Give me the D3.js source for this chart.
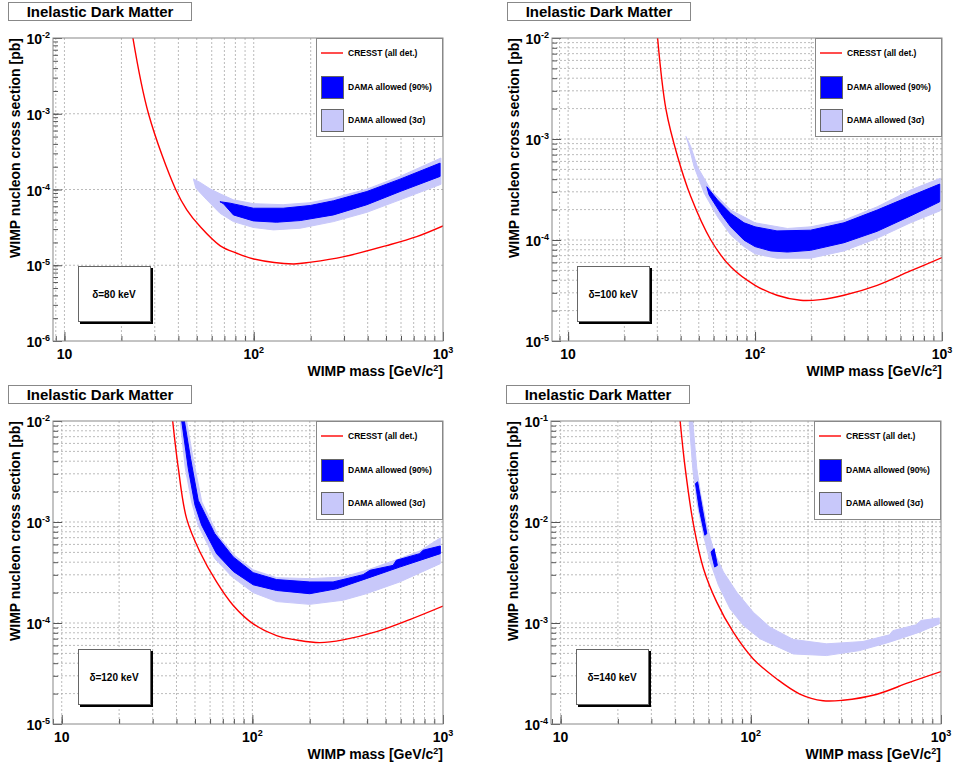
<!DOCTYPE html>
<html>
<head>
<meta charset="utf-8">
<script src="https://cdn.jsdelivr.net/npm/d3@7"></script>
<style>
  body { margin: 0; background: #fff; }
  svg { display: block; font-family: "Liberation Sans", Arial, Helvetica, sans-serif; font-weight: bold; }
</style>
</head>
<body>
<div id="chart"></div>
<script>
// panel settings, one entry per delta
const deltas = [80, 100, 120, 140];
const xMins = [8.7, 8.2, 9.0, 8.9];
const xMaxs = [1000, 1000, 1000, 1000];
const yLows = [1e-6, 1e-5, 1e-5, 1e-4];
const yHighs = [1e-2, 1e-2, 1e-2, 1e-1];
const minorHGrid = [false, true, true, true];

const legendLabels = ["CRESST (all det.)", "DAMA allowed (90%)", "DAMA allowed (3\u03c3)"];

// [mass GeV, cross section pb]
// band edges: Up = high-sigma side, Lo = low-sigma side
const cresst80 = [[23.0,1e-2],[27.8,1e-3],[38.7,1e-4],[44.3,5.4e-5],[52.1,3.24e-5],[66.3,1.82e-5],[81.3,1.44e-5],[100,1.21e-5],[162,1.04e-5],[201,1.10e-5],[300,1.30e-5],[504,1.82e-5],[726,2.39e-5],[1000,3.31e-5]];
const dama3sUp80 = [[48.0,1.38e-4],[52.1,1.24e-4],[58.8,1.02e-4],[66.3,8.8e-5],[78.1,7.3e-5],[99.6,6.5e-5],[143,6.3e-5],[199,6.7e-5],[264,7.7e-5],[396,1.01e-4],[593,1.49e-4],[975,2.6e-4]];
const dama3sLo80 = [[49.5,1.04e-4],[56.5,7.3e-5],[66.3,4.86e-5],[78.1,3.77e-5],[99.6,3.15e-5],[127,2.93e-5],[176,3.08e-5],[264,3.77e-5],[396,5.0e-5],[593,7.3e-5],[975,1.17e-4]];
const dama90Up80 = [[66.3,6.9e-5],[75.0,6.6e-5],[99.6,5.66e-5],[143,5.66e-5],[199,6.15e-5],[264,7.1e-5],[396,9.4e-5],[593,1.37e-4],[965,2.23e-4]];
const dama90Lo80 = [[69.2,6.5e-5],[78.1,4.62e-5],[99.6,3.85e-5],[132,3.70e-5],[176,3.89e-5],[264,4.62e-5],[396,6.3e-5],[593,9.4e-5],[965,1.49e-4]];

const cresst100 = [[30.1,1e-2],[33.4,1.95e-3],[38.5,6.7e-4],[45.3,2.69e-4],[58.0,1e-4],[74.1,5.42e-5],[100,3.56e-5],[131,2.84e-5],[175,2.53e-5],[224,2.57e-5],[299,2.84e-5],[450,3.56e-5],[678,4.94e-5],[1000,6.7e-5]];
const dama3sUp100 = [[42.7,1.06e-3],[45.3,8.4e-4],[49.2,5.3e-4],[58.0,3.12e-4],[74.1,1.98e-4],[100,1.48e-4],[149,1.30e-4],[198,1.35e-4],[299,1.57e-4],[450,2.13e-4],[678,3.12e-4],[979,4.08e-4]];
const dama3sLo100 = [[43.9,9.08e-4],[47.2,5.32e-4],[53.5,2.90e-4],[63.0,1.70e-4],[74.1,1.12e-4],[87.3,8.6e-5],[100,7.3e-5],[131,6.6e-5],[198,6.6e-5],[299,7.8e-5],[450,1.04e-4],[678,1.48e-4],[979,1.95e-4]];
const dama90Up100 = [[55.2,3.37e-4],[63.0,2.49e-4],[74.1,1.83e-4],[87.3,1.48e-4],[100,1.35e-4],[131,1.23e-4],[198,1.25e-4],[299,1.48e-4],[450,1.98e-4],[678,2.72e-4],[972,3.58e-4]];
const dama90Lo100 = [[56.8,2.79e-4],[65.6,1.83e-4],[74.1,1.35e-4],[87.3,9.97e-5],[100,8.6e-5],[121,7.8e-5],[149,7.6e-5],[198,7.9e-5],[299,9.4e-5],[450,1.22e-4],[678,1.73e-4],[972,2.39e-4]];

const cresst120 = [[38.2,1e-2],[40.9,3.39e-3],[45.2,1.08e-3],[53.1,5.05e-4],[64.9,2.55e-4],[79.4,1.49e-4],[101,9.8e-5],[134,7.5e-5],[177,6.7e-5],[226,6.4e-5],[299,6.8e-5],[448,8.2e-5],[669,1.08e-4],[1000,1.47e-4]];
const dama3sUp120 = [[45.2,1e-2],[48.9,4.26e-3],[54.3,1.58e-3],[66.0,7.4e-4],[80.5,4.68e-4],[101,3.36e-4],[134,2.81e-4],[200,2.75e-4],[299,2.85e-4],[396,3.32e-4],[593,4.34e-4],[755,5.16e-4],[968,6.95e-4]];
const dama3sLo120 = [[41.8,1e-2],[44.5,3.39e-3],[48.0,1.58e-3],[52.0,9.29e-4],[63.5,4.34e-4],[78.5,2.85e-4],[101,2.0e-4],[134,1.63e-4],[200,1.53e-4],[299,1.68e-4],[396,1.95e-4],[593,2.55e-4],[968,3.87e-4]];
const dama90Up120 = [[44.0,1e-2],[47.4,4.26e-3],[52.0,1.64e-3],[63.5,7.67e-4],[79.4,4.51e-4],[101,3.15e-4],[134,2.69e-4],[200,2.55e-4],[265,2.55e-4],[381,3.01e-4],[413,3.32e-4],[547,3.72e-4],[569,4.18e-4],[755,4.86e-4],[785,5.25e-4],[968,5.79e-4]];
const dama90Lo120 = [[42.6,1e-2],[46.1,3.39e-3],[50.0,1.47e-3],[54.2,9.29e-4],[64.9,4.86e-4],[79.4,3.24e-4],[101,2.39e-4],[134,2.10e-4],[200,1.95e-4],[276,2.18e-4],[396,2.75e-4],[593,3.58e-4],[968,4.86e-4]];

const cresst140 = [[42.5,1e-1],[45.2,3.39e-2],[50.0,9.3e-3],[56.4,3.45e-3],[66.2,1.61e-3],[80.9,8.1e-4],[103,4.41e-4],[137,2.79e-4],[181,1.98e-4],[240,1.70e-4],[305,1.72e-4],[456,1.96e-4],[682,2.58e-4],[1000,3.30e-4]];
const dama3sUp140 = [[49.5,1e-1],[52.0,3.39e-2],[54.6,1.85e-2],[58.7,9.29e-3],[64.1,5.05e-3],[71.8,3.20e-3],[84.3,2.02e-3],[103,1.28e-3],[126,9.1e-4],[167,6.87e-4],[250,6.22e-4],[344,6.46e-4],[389,6.56e-4],[536,7.64e-4],[558,8.4e-4],[740,9.6e-4],[785,1.06e-3],[979,1.12e-3]];
const dama3sLo140 = [[47.4,1e-1],[49.5,3.39e-2],[52.0,1.58e-2],[56.4,7.4e-3],[61.1,4.02e-3],[67.6,2.36e-3],[77.8,1.38e-3],[91.4,9.46e-4],[112,6.97e-4],[167,4.94e-4],[250,4.76e-4],[373,5.33e-4],[536,6.46e-4],[769,8.1e-4],[979,9.8e-4]];
// 90% region at 140 keV only shows as two thin slivers
const dama90Up140a = [[52.5,2.50e-2],[55.6,1.36e-2],[58.7,7.67e-3]];
const dama90Lo140a = [[51.2,2.40e-2],[53.7,1.31e-2],[57.3,7.4e-3]];
const dama90Up140b = [[64.1,5.45e-3],[66.7,3.72e-3]];
const dama90Lo140b = [[61.8,5.05e-3],[64.6,3.58e-3]];

const cresstCurves = [cresst80, cresst100, cresst120, cresst140];
const dama3sBands = [[[dama3sUp80, dama3sLo80]], [[dama3sUp100, dama3sLo100]], [[dama3sUp120, dama3sLo120]], [[dama3sUp140, dama3sLo140]]];
const dama90Bands = [[[dama90Up80, dama90Lo80]], [[dama90Up100, dama90Lo100]], [[dama90Up120, dama90Lo120]], [[dama90Up140a, dama90Lo140a], [dama90Up140b, dama90Lo140b]]];

const colRed = "#ff0000", colDark = "#0000ff", colLight = "#c8c8fa";

const W = 954, H = 769;
const offX = [0, 499, 0, 498], offY = [0, 0, 383, 383];
const L = 53, R = 443, T = 38, B = 341;

const svg = d3.select("#chart").append("svg").attr("width", W).attr("height", H);

function supText(sel, base, exp, size) {
  sel.append("tspan").text(base);
  sel.append("tspan").attr("dy", -6).attr("font-size", size).text(exp);
}

deltas.forEach((delta, i) => {
  const g = svg.append("g").attr("transform", `translate(${offX[i]},${offY[i]})`);
  const x = d3.scaleLog().domain([xMins[i], xMaxs[i]]).range([L, R]);
  const y = d3.scaleLog().domain([yLows[i], yHighs[i]]).range([B, T]);

  const isMajor = v => Math.abs(Math.log10(v) - Math.round(Math.log10(v))) < 1e-9;
  const xTicks = x.ticks();
  const yTicks = y.ticks();
  const xMajors = xTicks.filter(isMajor);
  const yMajors = yTicks.filter(isMajor);

  // grid
  const grid = g.append("g").attr("stroke", "#aaa").attr("stroke-width", 0.8).attr("stroke-dasharray", "2,2");
  grid.selectAll(".vg").data(xTicks.filter(v => x(v) > L + 1 && x(v) < R - 1)).enter()
    .append("line").attr("x1", d => x(d)).attr("x2", d => x(d)).attr("y1", T).attr("y2", B);
  grid.selectAll(".hg").data((minorHGrid[i] ? yTicks : yMajors).filter(v => y(v) > T + 1 && y(v) < B - 1)).enter()
    .append("line").attr("y1", d => y(d)).attr("y2", d => y(d)).attr("x1", L).attr("x2", R);

  const clipId = "clip" + i;
  g.append("clipPath").attr("id", clipId).append("rect").attr("x", L).attr("y", T).attr("width", R - L).attr("height", B - T);
  const plot = g.append("g").attr("clip-path", `url(#${clipId})`);

  const poly = d3.line().x(d => x(d[0])).y(d => y(d[1])).curve(d3.curveLinearClosed);
  dama3sBands[i].forEach(([up, lo]) => {
    plot.append("path").attr("d", poly(up.concat(lo.slice().reverse()))).attr("fill", colLight).attr("stroke", colLight).attr("stroke-width", 1);
  });
  dama90Bands[i].forEach(([up, lo]) => {
    plot.append("path").attr("d", poly(up.concat(lo.slice().reverse()))).attr("fill", colDark).attr("stroke", colDark).attr("stroke-width", 1);
  });

  const line = d3.line().x(d => x(d[0])).y(d => y(d[1])).curve(d3.curveCatmullRom);
  plot.append("path").attr("d", line(cresstCurves[i])).attr("fill", "none").attr("stroke", colRed).attr("stroke-width", 1.4);

  // ticks
  const axX = g.append("g").attr("transform", `translate(0,${B})`).style("color", "#555");
  axX.call(d3.axisBottom(x).tickValues(xTicks).tickSize(-5).tickFormat(""));
  axX.append("g").call(d3.axisBottom(x).tickValues(xMajors).tickSize(-9).tickFormat(""));
  axX.selectAll(".domain").remove();
  const axY = g.append("g").attr("transform", `translate(${L},0)`).style("color", "#555");
  axY.call(d3.axisLeft(y).tickValues(yTicks).tickSize(-5).tickFormat(""));
  axY.append("g").call(d3.axisLeft(y).tickValues(yMajors).tickSize(-9).tickFormat(""));
  axY.selectAll(".domain").remove();

  g.append("rect").attr("x", L).attr("y", T).attr("width", R - L).attr("height", B - T)
    .attr("fill", "none").attr("stroke", "#888").attr("stroke-width", 1);

  // tick labels
  xMajors.forEach(v => {
    const e = Math.round(Math.log10(v));
    const t = g.append("text").attr("x", x(v)).attr("y", B + 18).attr("text-anchor", "middle").attr("font-size", 14);
    if (e === 1) t.text("10"); else supText(t, "10", e, 9);
  });
  yMajors.forEach(v => {
    const e = Math.round(Math.log10(v));
    const t = g.append("text").attr("x", L - 3).attr("y", y(v) + 6).attr("text-anchor", "end").attr("font-size", 14);
    supText(t, "10", e, 9);
  });

  // axis titles
  const xt = g.append("text").attr("x", R).attr("y", 376).attr("text-anchor", "end").attr("font-size", 14);
  xt.append("tspan").text("WIMP mass [GeV/c");
  xt.append("tspan").attr("dy", -5).attr("font-size", 9).text("2");
  xt.append("tspan").attr("dy", 5).text("]");
  g.append("text").attr("transform", `translate(20,${T}) rotate(-90)`).attr("text-anchor", "end")
    .attr("font-size", 14).text("WIMP nucleon cross section [pb]");

  // title box
  g.append("rect").attr("x", 8.5).attr("y", 2.5).attr("width", 183).attr("height", 18)
    .attr("fill", "#fff").attr("stroke", "#888");
  g.append("text").attr("x", 100).attr("y", 17).attr("text-anchor", "middle").attr("font-size", 15).text("Inelastic Dark Matter");

  // legend
  const lg = g.append("g").attr("transform", `translate(316,${T})`);
  lg.append("rect").attr("x", 0.5).attr("y", 0.5).attr("width", R - 316 - 1).attr("height", 98).attr("fill", "#fff").attr("stroke", "#888");
  lg.append("line").attr("x1", 5).attr("x2", 27).attr("y1", 15).attr("y2", 15).attr("stroke", colRed).attr("stroke-width", 1.4);
  lg.append("rect").attr("x", 5.5).attr("y", 38.5).attr("width", 22).attr("height", 22).attr("fill", colDark).attr("stroke", "#666");
  lg.append("rect").attr("x", 5.5).attr("y", 71.5).attr("width", 22).attr("height", 22).attr("fill", colLight).attr("stroke", "#666");
  [18, 52, 85].forEach((yy, k) => {
    lg.append("text").attr("x", 32).attr("y", yy).attr("font-size", 8.5).text(legendLabels[k]);
  });

  // delta box
  g.append("rect").attr("x", 80).attr("y", 268).attr("width", 73).attr("height", 56).attr("fill", "#000");
  g.append("rect").attr("x", 78.5).attr("y", 266.5).attr("width", 72).attr("height", 55).attr("fill", "#fff").attr("stroke", "#666");
  g.append("text").attr("x", 114).attr("y", 298).attr("text-anchor", "middle").attr("font-size", 10)
    .text("\u03b4=" + delta + " keV");
});
</script>
</body>
</html>
